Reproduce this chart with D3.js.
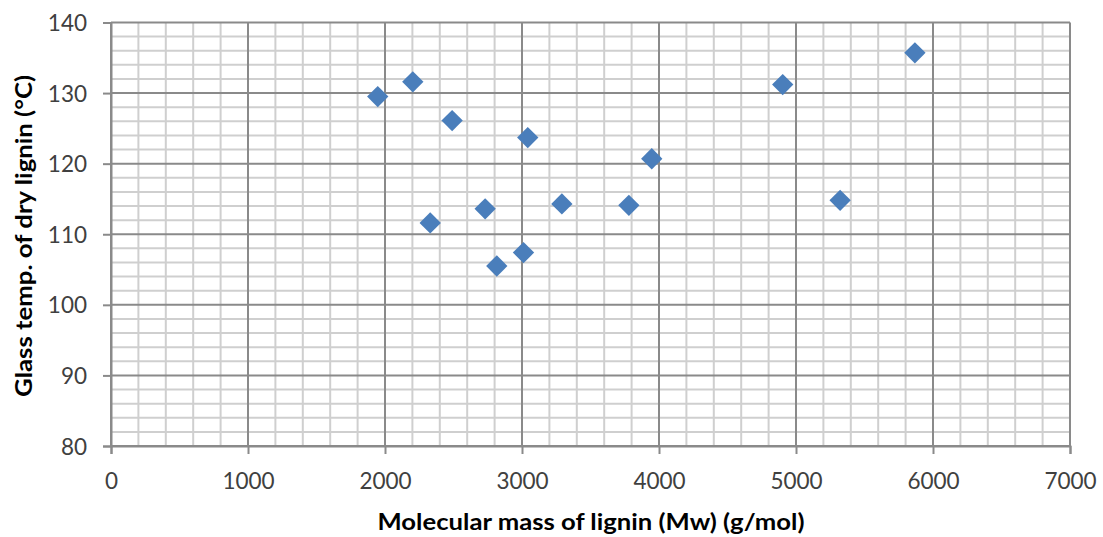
<!DOCTYPE html>
<html>
<head>
<meta charset="utf-8">
<script src="https://cdn.jsdelivr.net/npm/d3@7"></script>
<style>
  html, body { margin: 0; padding: 0; background: #fff; }
  svg { display: block; }
</style>
</head>
<body>
<svg id="chart" width="1103" height="537"></svg>
<script>
// Lignin samples: weight-average molecular mass vs. glass transition temperature
const molecularMass = [1947, 2203, 2490, 3042, 3947, 2330, 2731, 2816, 3011, 3291, 3780, 4903, 5322, 5868];
const glassTemp     = [129.5, 131.6, 126.1, 123.7, 120.7, 111.6, 113.6, 105.5, 107.4, 114.3, 114.1, 131.2, 114.8, 135.7];

const xTicks = [0, 1000, 2000, 3000, 4000, 5000, 6000, 7000];
const yTicks = [80, 90, 100, 110, 120, 130, 140];
const xTitle = "Molecular mass of lignin (Mw) (g/mol)";
const yTitle = "Glass temp. of dry lignin (°C)";

const svg = d3.select("#chart");
const plot = { left: 111, right: 1070, top: 22.5, bottom: 446 };

const x = d3.scaleLinear().domain([0, 7000]).range([plot.left, plot.right]);
const y = d3.scaleLinear().domain([80, 140]).range([plot.bottom, plot.top]);

const minorColor = "#cfcfcf", majorColor = "#8a8a8a";
const font = "Lato, 'Open Sans', 'Liberation Sans', sans-serif";

// minor grid
const g = svg.append("g");
const xMinor = d3.range(0, 7001, 200).filter(v => v % 1000 !== 0);
const yMinor = d3.range(80, 140.01, 2).filter(v => Math.round(v) % 10 !== 0);
g.selectAll(".xm").data(xMinor).join("line")
  .attr("x1", d => x(d)).attr("x2", d => x(d))
  .attr("y1", plot.top).attr("y2", plot.bottom)
  .attr("stroke", minorColor).attr("stroke-width", 2);
g.selectAll(".ym").data(yMinor).join("line")
  .attr("x1", plot.left).attr("x2", plot.right)
  .attr("y1", d => y(d)).attr("y2", d => y(d))
  .attr("stroke", minorColor).attr("stroke-width", 2);

// major grid
g.selectAll(".xM").data(xTicks).join("line")
  .attr("x1", d => x(d)).attr("x2", d => x(d))
  .attr("y1", plot.top).attr("y2", plot.bottom)
  .attr("stroke", majorColor).attr("stroke-width", 2);
g.selectAll(".yM").data(yTicks).join("line")
  .attr("x1", plot.left).attr("x2", plot.right)
  .attr("y1", d => y(d)).attr("y2", d => y(d))
  .attr("stroke", majorColor).attr("stroke-width", 2);

// axes
const xAxis = svg.append("g").attr("transform", `translate(0,${plot.bottom})`)
  .call(d3.axisBottom(x).tickValues(xTicks).tickSize(8).tickPadding(19).tickFormat(d3.format("d")));
const yAxis = svg.append("g").attr("transform", `translate(${plot.left},0)`)
  .call(d3.axisLeft(y).tickValues(yTicks).tickSize(8).tickPadding(16).tickFormat(d3.format("d")));
[xAxis, yAxis].forEach(a => {
  a.select(".domain").attr("stroke", majorColor).attr("stroke-width", 2);
  a.selectAll(".tick line").attr("stroke", majorColor).attr("stroke-width", 2);
  a.selectAll(".tick text").attr("fill", "#404040")
    .style("font-family", font).style("font-size", "22.5px");
});
yAxis.selectAll(".tick text").attr("dy", "0.36em");

// points
const sym = d3.symbol().type(d3.symbolDiamond2).size(290);
svg.append("g").selectAll("path")
  .data(molecularMass.map((m, i) => [m, glassTemp[i]]))
  .join("path")
  .attr("d", sym)
  .attr("transform", d => `translate(${x(d[0])},${y(d[1])})`)
  .attr("fill", "#4a7ebb");

// titles
svg.append("text")
  .attr("x", 591).attr("y", 530)
  .attr("text-anchor", "middle")
  .attr("textLength", 427).attr("lengthAdjust", "spacingAndGlyphs")
  .style("font-family", font).style("font-weight", "bold").style("font-size", "22px")
  .attr("fill", "#000").text(xTitle);

svg.append("text")
  .attr("transform", "translate(32,236) rotate(-90)")
  .attr("text-anchor", "middle")
  .attr("textLength", 322).attr("lengthAdjust", "spacingAndGlyphs")
  .style("font-family", font).style("font-weight", "bold").style("font-size", "22px")
  .attr("fill", "#000").text(yTitle);
</script>
</body>
</html>
